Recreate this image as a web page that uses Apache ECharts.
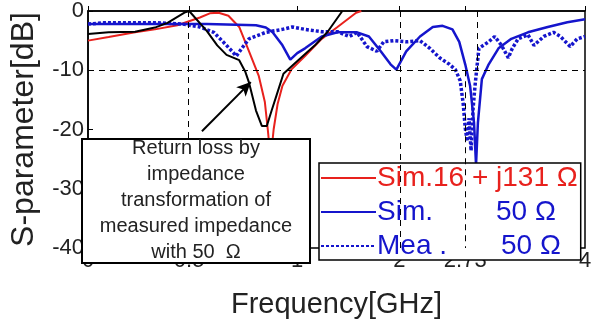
<!DOCTYPE html>
<html>
<head>
<meta charset="utf-8">
<script src="https://cdn.jsdelivr.net/npm/echarts@6/dist/echarts.min.js"></script>
<style>
  html, body { margin: 0; padding: 0; background: #fff; }
  #chart { width: 599px; height: 324px; }
</style>
</head>
<body>
<div id="chart"></div>
<script>
// x is the tick position on the (non-uniform) frequency axis, 0..4
const xTickPos = [0, 0.814, 1.684, 2.506, 3.036, 4]
const xTickLabels = ["0", "0.5", "1", "2", "2.73", "4"]

// return loss by impedance transformation (black)
const transformed = [
  [0, -3.9], [0.166, -3.6], [0.379, -3.5], [0.538, -2.8], [0.64, -2.0], [0.783, -0.2],
  [0.814, 0], [0.957, -3.4], [1.04, -5.8], [1.115, -7.4], [1.217, -8.3], [1.265, -10.2],
  [1.296, -12.1], [1.352, -16.8], [1.399, -19.4], [1.439, -19.4], [1.478, -16.8],
  [1.518, -14.2], [1.573, -10.6], [1.692, -8.3], [1.826, -5.8], [1.929, -3.5], [2.047, 0]
]
// Sim. 16 + j131 ohm (red)
const sim16 = [
  [0, -5.0], [0.166, -4.4], [0.379, -3.6], [0.538, -3.1], [0.719, -2.4], [0.901, -1.1],
  [0.98, -0.4], [1.051, -0.3], [1.13, -0.8], [1.217, -2.7], [1.296, -6.8], [1.375, -11.0],
  [1.423, -15.3], [1.447, -20.0], [1.47, -25.0], [1.494, -20.0], [1.526, -15.7],
  [1.565, -12.6], [1.636, -9.9], [1.747, -7.6], [1.881, -4.7], [2.008, -2.7], [2.158, -0.3], [2.2, 0]
]
// Sim. 50 ohm (blue solid)
const sim50 = [
  [0, -2.2], [0.561, -2.2], [0.957, -2.2], [1.352, -2.4], [1.431, -2.8], [1.486, -3.6],
  [1.565, -5.8], [1.628, -8.2], [1.684, -7.1], [1.747, -6.3], [1.881, -4.3], [2.008, -3.6],
  [2.166, -3.6], [2.261, -4.3], [2.356, -6.8], [2.435, -9.0], [2.482, -9.9], [2.561, -6.8],
  [2.672, -4.3], [2.775, -2.7], [2.854, -2.5], [2.933, -3.1], [2.988, -5.2], [3.036, -9.0],
  [3.075, -12.6], [3.107, -18.9], [3.123, -26.0], [3.138, -18.9], [3.17, -11.5],
  [3.225, -9.0], [3.304, -6.3], [3.407, -4.7], [3.541, -3.6], [3.7, -2.7], [3.858, -1.9], [4, -1.4]
]
// Mea. 50 ohm (blue dashed)
const mea50 = [
  [0, -2.2], [0.126, -2.0], [0.561, -2.0], [0.759, -2.2], [0.901, -2.7], [1.012, -3.6],
  [1.115, -5.8], [1.194, -7.6], [1.249, -6.0], [1.296, -4.7], [1.431, -3.6], [1.565, -3.1],
  [1.644, -2.7], [1.747, -3.1], [1.881, -3.5], [2.008, -3.5], [2.103, -4.3], [2.166, -3.6],
  [2.245, -6.0], [2.324, -6.8], [2.38, -5.2], [2.459, -5.0], [2.561, -5.2], [2.672, -5.0],
  [2.751, -6.3], [2.83, -7.9], [2.909, -9.0], [2.957, -9.9], [2.996, -11.8], [3.02, -15.7],
  [3.036, -19.7], [3.052, -22.0], [3.067, -18.1], [3.083, -23.6], [3.099, -16.5],
  [3.115, -12.6], [3.146, -6.3], [3.225, -5.2], [3.273, -4.3], [3.328, -5.8], [3.383, -7.9],
  [3.415, -6.3], [3.462, -4.7], [3.541, -4.0], [3.589, -5.8], [3.668, -4.3], [3.747, -3.6],
  [3.802, -4.3], [3.881, -6.0], [3.937, -4.7], [4, -4.3]
]

const RED = "#e8211d"
const BLUE = "#1515cc"
const FONT = "Liberation Sans, Arial, sans-serif"

const chart = echarts.init(document.getElementById("chart"), null, { renderer: "canvas" })

const gridDash = { color: "#000", type: [6, 5], width: 1 }

chart.setOption({
  backgroundColor: "#fff",
  animation: false,
  grid: { left: 79, right: 14, top: 10, bottom: 60, show: true, borderColor: "#000", borderWidth: 1.5 },
  xAxis: {
    type: "value",
    min: 0,
    max: 4,
    name: "Frequency[GHz]",
    nameLocation: "middle",
    nameGap: 42,
    nameTextStyle: { fontFamily: FONT, fontSize: 29, color: "#222" },
    axisLine: { lineStyle: { color: "#000", width: 1.5 } },
    axisTick: { inside: true, length: 5, customValues: xTickPos, lineStyle: { color: "#000" } },
    axisLabel: {
      customValues: xTickPos,
      margin: 2,
      fontFamily: FONT,
      fontSize: 22,
      color: "#222",
      formatter: (v) => {
        const i = xTickPos.findIndex((p) => Math.abs(p - v) < 1e-6)
        return i >= 0 ? xTickLabels[i] : ""
      },
    },
    splitLine: { show: false },
  },
  yAxis: {
    type: "value",
    min: -40,
    max: 0,
    interval: 10,
    name: "S-parameter[dB]",
    nameLocation: "middle",
    nameGap: 48,
    nameTextStyle: { fontFamily: FONT, fontSize: 32, color: "#222" },
    axisLine: { lineStyle: { color: "#000", width: 1.5 } },
    axisTick: { inside: true, length: 5, lineStyle: { color: "#000" } },
    axisLabel: { margin: 4, fontFamily: FONT, fontSize: 22, color: "#222" },
    splitLine: { show: false },
  },
  legend: {
    data: ["Sim.16 + j131 Ω", "Sim. 50 Ω", "Mea. 50 Ω"],
    orient: "vertical",
    left: 319,
    top: 163,
    padding: [1, 3, 0, 1],
    itemWidth: 55,
    itemHeight: 14,
    itemGap: 6,
    backgroundColor: "#fff",
    borderColor: "#000",
    borderWidth: 1.5,
    borderRadius: 0,
    selectedMode: false,
    itemStyle: { opacity: 0 },
    textStyle: {
      fontFamily: FONT,
      fontSize: 28,
      padding: [0, 0, 0, -4],
      rich: {
        r: { fontFamily: FONT, fontSize: 28, color: RED },
        a: { fontFamily: FONT, fontSize: 28, color: BLUE, width: 119 },
        c: { fontFamily: FONT, fontSize: 28, color: BLUE, width: 124 },
        v: { fontFamily: FONT, fontSize: 28, color: BLUE },
      },
    },
    formatter: (name) => {
      if (name === "Sim. 50 Ω") return "{a|Sim.}{v|50 Ω}"
      if (name === "Mea. 50 Ω") return "{c|Mea .}{v|50 Ω}"
      return "{r|Sim.16 + j131 Ω}"
    },
  },
  series: [
    {
      name: "grid",
      type: "line",
      data: [[0, 0]],
      symbol: "none",
      silent: true,
      z: 1,
      lineStyle: { opacity: 0 },
      markLine: {
        silent: true,
        symbol: "none",
        label: { show: false },
        lineStyle: gridDash,
        data: [
          { yAxis: -10 },
          { xAxis: xTickPos[1] },
          { xAxis: xTickPos[3] },
          [{ coord: [3.13, 0] }, { coord: [3.13, -10] }],
          [{ coord: [xTickPos[4], -10] }, { coord: [xTickPos[4], -40] }],
        ],
      },
    },
    {
      name: "Sim.16 + j131 Ω",
      type: "line",
      data: sim16,
      symbol: "none",
      z: 3,
      lineStyle: { color: RED, width: 2 },
      itemStyle: { color: RED },
    },
    {
      name: "Sim. 50 Ω",
      type: "line",
      data: sim50,
      symbol: "none",
      z: 3,
      lineStyle: { color: BLUE, width: 2.5 },
      itemStyle: { color: BLUE },
    },
    {
      name: "Mea. 50 Ω",
      type: "line",
      data: mea50,
      symbol: "none",
      z: 3,
      lineStyle: { color: BLUE, width: 3.5, type: [3, 2] },
      itemStyle: { color: BLUE },
    },
    {
      name: "transformed",
      type: "line",
      data: transformed,
      symbol: "none",
      z: 4,
      lineStyle: { color: "#000", width: 2 },
      itemStyle: { color: "#000" },
      markLine: {
        silent: true,
        symbol: ["none", "arrow"],
        symbolSize: [10, 14],
        label: { show: false },
        lineStyle: { color: "#000", width: 2, type: "solid" },
        data: [[{ coord: [0.917, -20.3] }, { coord: [1.31, -12.0] }]],
      },
    },
  ],
  graphic: [
    {
      type: "rect",
      z: 100,
      shape: { x: 82, y: 139, width: 228, height: 124 },
      style: { fill: "#fff", stroke: "#000", lineWidth: 2 },
    },
    {
      type: "text",
      z: 101,
      x: 196,
      y: 135,
      style: {
        text: "Return loss by\nimpedance\ntransformation of\nmeasured impedance\nwith 50  Ω",
        font: "20px Liberation Sans, Arial, sans-serif",
        fill: "#222",
        align: "center",
        lineHeight: 26,
      },
    },
  ],
})
</script>
</body>
</html>
